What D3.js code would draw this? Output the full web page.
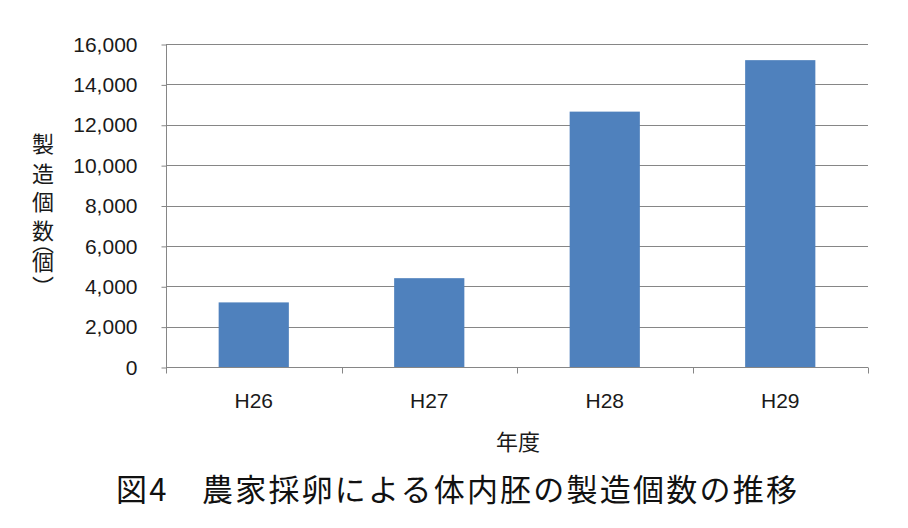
<!DOCTYPE html>
<html><head><meta charset="utf-8">
<script src="https://cdn.jsdelivr.net/npm/d3@7"></script>
<style>
html,body{margin:0;padding:0;background:#fff;}
svg{display:block;}
</style></head>
<body>
<svg id="chart" width="908" height="528"></svg>
<script>
const categories = ["H26", "H27", "H28", "H29"];
const values = [3200, 4400, 12650, 15200];
const yTicks = [0, 2000, 4000, 6000, 8000, 10000, 12000, 14000, 16000];
const yLabelChars = ["製", "造", "個", "数", "︵", "個", "︶"];
const xTitle = "年度";
const chartTitle = "図4　農家採卵による体内胚の製造個数の推移";

const svg = d3.select("#chart");
const m = {left: 166, right: 868, top: 44, bottom: 367};
const numFont = "'Liberation Sans', Arial, sans-serif";
const cjkFont = "'Noto Sans CJK JP', sans-serif";
const axisColor = "#868686";
const textColor = "#1a1a1a";

const x = d3.scaleBand().domain(categories).range([m.left, m.right]).paddingInner(0.6).paddingOuter(0.3);
const y = d3.scaleLinear().domain([0, 16000]).range([m.bottom, m.top]);

// gridlines
svg.append("g").selectAll("line").data(yTicks.filter(d => d > 0)).join("line")
  .attr("x1", m.left).attr("x2", m.right)
  .attr("y1", d => Math.round(y(d)) + 0.5).attr("y2", d => Math.round(y(d)) + 0.5)
  .attr("stroke", axisColor).attr("stroke-width", 1);

// bars
svg.append("g").selectAll("rect").data(values).join("rect")
  .attr("x", (d, i) => x(categories[i]))
  .attr("width", x.bandwidth())
  .attr("y", d => y(d))
  .attr("height", d => y(0) - y(d))
  .attr("fill", "#4f81bd");

// y axis
const yAxis = d3.axisLeft(y).tickValues(yTicks).tickSize(5).tickPadding(24)
  .tickFormat(d3.format(","));
const gy = svg.append("g").attr("transform", `translate(${m.left + 0.5},0.5)`).call(yAxis);
gy.select(".domain").attr("stroke", axisColor).attr("d", `M0,${m.top}V${m.bottom}`);
gy.selectAll(".tick line").attr("stroke", axisColor);
gy.selectAll(".tick text").attr("font-family", numFont).attr("font-size", 21).attr("fill", textColor);

// x axis with category boundary ticks
const gx = svg.append("g").attr("transform", `translate(0,${m.bottom + 0.5})`);
gx.append("line").attr("x1", m.left).attr("x2", m.right).attr("stroke", axisColor);
const edges = [m.left].concat(categories.slice(1).map(c => x(c) - (x.step() - x.bandwidth()) / 2), [m.right]);
gx.selectAll("line.tk").data(edges).join("line").attr("class", "tk")
  .attr("x1", d => Math.round(d) + 0.5).attr("x2", d => Math.round(d) + 0.5)
  .attr("y1", 0).attr("y2", 6).attr("stroke", axisColor);
gx.selectAll("text").data(categories).join("text")
  .attr("x", d => x(d) + x.bandwidth() / 2).attr("y", 40)
  .attr("text-anchor", "middle").attr("font-family", numFont).attr("font-size", 21).attr("fill", textColor)
  .text(d => d);

// axis title x
svg.append("text").attr("x", 518).attr("y", 440).attr("text-anchor", "middle")
  .attr("dominant-baseline", "central")
  .attr("font-family", cjkFont).attr("font-size", 22).attr("fill", textColor).text(xTitle);

// y axis title: one text element, stacked characters with vertical-form parentheses
const yPos = [141.5, 171.5, 199.5, 228.5, 241, 260, 285];
const yl = svg.append("text")
  .attr("font-family", cjkFont).attr("font-size", 22).attr("fill", textColor)
  .attr("text-anchor", "middle").attr("dominant-baseline", "central");
yLabelChars.forEach((c, i) => {
  yl.append("tspan").attr("x", 43).attr("y", yPos[i]).text(c);
});

// chart title
svg.append("text").attr("x", 116).attr("y", 487)
  .attr("dominant-baseline", "central")
  .attr("textLength", 681).attr("lengthAdjust", "spacing")
  .attr("font-family", cjkFont).attr("font-size", 31).attr("font-weight", 400).attr("fill", "#111")
  .text(chartTitle);
</script>
</body></html>
